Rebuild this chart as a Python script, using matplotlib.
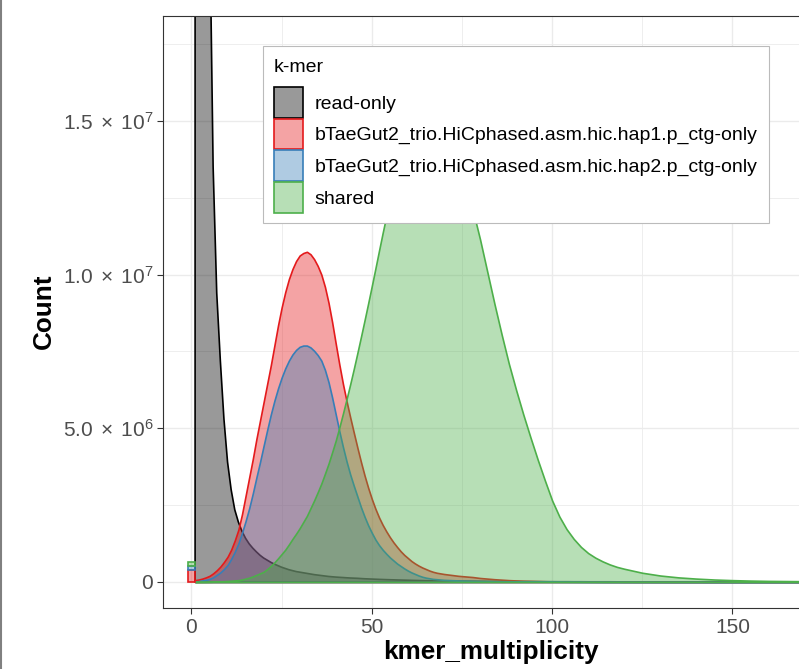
import numpy as np
import matplotlib
matplotlib.use('Agg')
import matplotlib.pyplot as plt
from matplotlib.patches import Patch, Rectangle
from matplotlib.lines import Line2D

plt.rcParams['font.family'] = ['Liberation Sans', 'DejaVu Sans']
plt.rcParams['mathtext.fontset'] = 'custom'
plt.rcParams['mathtext.rm'] = 'Liberation Sans'
plt.rcParams['mathtext.it'] = 'Liberation Sans:italic'

# k-mer multiplicity (x): every 1 up to 70, every 2 up to 120, then every 5
mult = list(range(1, 71)) + list(range(72, 121, 2)) + list(range(125, 171, 5))

# counts, in millions
read_only = [300, 120, 60, 35, 22, 13.5, 9.4, 7.2, 5.3, 3.9,
             3.0, 2.35, 1.95, 1.65, 1.42, 1.24, 1.1, 0.98, 0.87, 0.78,
             0.71, 0.64, 0.58, 0.53, 0.48, 0.44, 0.4, 0.37, 0.34, 0.32,
             0.3, 0.28, 0.26, 0.24, 0.225, 0.21, 0.195, 0.18, 0.17, 0.16,
             0.152, 0.145, 0.137, 0.13, 0.125, 0.12, 0.112, 0.105, 0.1, 0.095,
             0.09, 0.085, 0.081, 0.077, 0.073, 0.07, 0.066, 0.063, 0.06, 0.057,
             0.053, 0.05, 0.047, 0.045, 0.042, 0.04, 0.038, 0.036, 0.034, 0.032,
             0.029, 0.026, 0.023, 0.021, 0.019, 0.017, 0.016, 0.015, 0.014, 0.013,
             0.012, 0.011, 0.01, 0.009, 0.009, 0.008, 0.008, 0.007, 0.007, 0.006,
             0.006, 0.006, 0.006, 0.005, 0.005,
             0.005, 0.004, 0.004, 0.003, 0.003, 0.003, 0.002, 0.002, 0.002, 0.002]

hap1_only = [0.06, 0.08, 0.11, 0.15, 0.2, 0.28, 0.38, 0.5, 0.65, 0.82,
             1.05, 1.35, 1.7, 2.2, 2.8, 3.4, 4.0, 4.65, 5.25, 5.85,
             6.45, 7.05, 7.7, 8.35, 8.93, 9.43, 9.85, 10.18, 10.44, 10.62,
             10.7, 10.74, 10.66, 10.5, 10.28, 10.0, 9.6, 9.08, 8.45, 7.75,
             7.07, 6.44, 5.88, 5.36, 4.86, 4.37, 3.9, 3.46, 3.06, 2.7,
             2.38, 2.1, 1.86, 1.65, 1.46, 1.29, 1.14, 1.0, 0.88, 0.78,
             0.68, 0.6, 0.53, 0.47, 0.42, 0.37, 0.33, 0.3, 0.28, 0.26,
             0.23, 0.2, 0.18, 0.16, 0.13, 0.11, 0.09, 0.075, 0.06, 0.05,
             0.04, 0.035, 0.03, 0.025, 0.02, 0.018, 0.015, 0.013, 0.011, 0.01,
             0.009, 0.008, 0.007, 0.007, 0.006,
             0.005, 0.004, 0.003, 0.003, 0.002, 0.002, 0.002, 0.001, 0.001, 0.001]

hap2_only = [0.02, 0.03, 0.05, 0.07, 0.1, 0.15, 0.23, 0.31, 0.42, 0.55,
             0.75, 0.98, 1.25, 1.6, 1.98, 2.4, 2.88, 3.4, 3.9, 4.43,
             4.95, 5.45, 5.9, 6.3, 6.65, 6.95, 7.2, 7.4, 7.55, 7.65,
             7.69, 7.69, 7.63, 7.52, 7.38, 7.2, 6.9, 6.5, 6.0, 5.45,
             4.9, 4.39, 3.92, 3.5, 3.13, 2.78, 2.43, 2.12, 1.84, 1.6,
             1.38, 1.2, 1.05, 0.92, 0.8, 0.7, 0.6, 0.52, 0.44, 0.37,
             0.31, 0.26, 0.21, 0.17, 0.14, 0.12, 0.1, 0.09, 0.08, 0.07,
             0.06, 0.05, 0.045, 0.04, 0.035, 0.03, 0.027, 0.024, 0.021, 0.018,
             0.016, 0.014, 0.012, 0.011, 0.01, 0.009, 0.008, 0.007, 0.006, 0.005,
             0.005, 0.004, 0.004, 0.004, 0.003,
             0.003, 0.002, 0.002, 0.002, 0.001, 0.001, 0.001, 0.001, 0.001, 0.001]

shared = [0.002, 0.003, 0.004, 0.005, 0.007, 0.01, 0.014, 0.019, 0.025, 0.032,
          0.04, 0.05, 0.06, 0.08, 0.11, 0.14, 0.18, 0.23, 0.28, 0.33,
          0.42, 0.52, 0.64, 0.77, 0.91, 1.05, 1.22, 1.4, 1.57, 1.75,
          1.95, 2.15, 2.4, 2.65, 2.92, 3.2, 3.52, 3.85, 4.22, 4.6,
          5.03, 5.48, 5.95, 6.43, 6.93, 7.45, 7.98, 8.52, 9.07, 9.63,
          10.2, 10.78, 11.35, 11.9, 12.45, 13.0, 13.55, 14.1, 14.55, 15.0,
          15.35, 15.7, 15.9, 16.1, 16.2, 16.25, 16.2, 16.1, 15.9, 15.7,
          15.0, 14.1, 13.1, 12.1, 11.15, 10.1, 9.05, 8.05, 7.1, 6.25,
          5.45, 4.7, 3.98, 3.3, 2.65, 2.13, 1.72, 1.4, 1.14, 0.94,
          0.79, 0.67, 0.57, 0.49, 0.43,
          0.3, 0.21, 0.15, 0.11, 0.08, 0.06, 0.045, 0.035, 0.03, 0.025]

# assembly-only k-mers (multiplicity 0), stacked bars, in millions
zero_labels = ['hap1', 'hap2', 'shared']
zero_counts = [0.40, 0.12, 0.13]

series_names = ['read-only',
                'bTaeGut2_trio.HiCphased.asm.hic.hap1.p_ctg-only',
                'bTaeGut2_trio.HiCphased.asm.hic.hap2.p_ctg-only',
                'shared']
series_colors = ['#000000', '#E41A1C', '#377EB8', '#4DAF4A']

x_ticks = [0, 50, 100, 150]
y_ticks = [0, 5e6, 1e7, 1.5e7]
y_tick_labels = ['0', r'$\mathregular{5.0\;\times\;10^{6}}$', r'$\mathregular{1.0\;\times\;10^{7}}$',
                 r'$\mathregular{1.5\;\times\;10^{7}}$']

W, H = 799, 669
fig = plt.figure(figsize=(W / 100, H / 100), dpi=100)
# panel runs past the right edge, like the original crop
ax = fig.add_axes([163 / W, (H - 608) / H, (819 - 163) / W, (608 - 16) / H])

x = np.array(mult)
all_series = [read_only, hap1_only, hap2_only, shared]
for vals, col in zip(all_series, series_colors):
    rgb = matplotlib.colors.to_rgb(col)
    ax.fill_between(x, 0, np.array(vals) * 1e6, facecolor=(*rgb, 0.4),
                    edgecolor=col, linewidth=1.2, zorder=2)

bottom = 0
for val, col in zip(zero_counts, series_colors[1:]):
    rgb = matplotlib.colors.to_rgb(col)
    ax.bar(0, val * 1e6, width=2.2, bottom=bottom, color=(*rgb, 0.4),
           edgecolor=col, linewidth=1.2, zorder=3)
    bottom += val * 1e6

ax.set_xlim(-7.9, 174)
ax.set_ylim(-0.846e6, 18.41e6)

ax.set_xticks(x_ticks)
ax.set_xticks([25, 75, 125], minor=True)
ax.set_yticks(y_ticks)
ax.set_yticklabels(y_tick_labels)
ax.set_yticks([2.5e6, 7.5e6, 1.25e7, 1.75e7], minor=True)

ax.set_axisbelow(True)
ax.grid(which='major', color='#EBEBEB', linewidth=1.0)
ax.grid(which='minor', color='#EBEBEB', linewidth=0.6)
ax.tick_params(which='major', length=4, width=0.8, color='#333333',
               labelsize=15, labelcolor='#4D4D4D', pad=3)
ax.tick_params(which='minor', length=0)
for side in ['left', 'top', 'bottom']:
    ax.spines[side].set_color('#333333')
    ax.spines[side].set_linewidth(0.8)
ax.spines['right'].set_visible(False)

fig.text(491 / W, 1 - 652 / H, 'kmer_multiplicity', fontsize=18.8, fontweight='bold',
         ha='center', va='center')
fig.text(44 / W, 1 - 311 / H, 'Count', fontsize=18.8, fontweight='bold',
         ha='center', va='center', rotation=90)

# legend box drawn by hand so its padding matches ggplot's
ax.add_patch(Rectangle((263 / W, 1 - 223 / H), (769 - 263) / W, (223 - 46) / H,
                       transform=fig.transFigure, facecolor='white', edgecolor='#BBBBBB',
                       linewidth=0.8, clip_on=False, zorder=4.5))

handles = []
for name, col in zip(series_names, series_colors):
    rgb = matplotlib.colors.to_rgb(col)
    handles.append(Patch(facecolor=(*rgb, 0.4), edgecolor=col, linewidth=1.2, label=name))
fs = 14
leg = ax.legend(handles=handles, title='k-mer', loc='upper left',
                bbox_to_anchor=(273.5 / W, 1 - 59 / H), bbox_transform=fig.transFigure,
                fontsize=fs, title_fontsize=fs, alignment='left',
                frameon=False, borderpad=0, borderaxespad=0,
                handlelength=1.54, handleheight=2.05,
                labelspacing=0.05, handletextpad=0.57)
leg._legend_box.sep = 8
leg.set_zorder(5)

# thin grey border at the far left of the image
fig.add_artist(Line2D([0.8 / W, 0.8 / W], [0, 1], transform=fig.transFigure,
                      color='#808080', linewidth=1.5))

fig.savefig('out.png', dpi=100)
